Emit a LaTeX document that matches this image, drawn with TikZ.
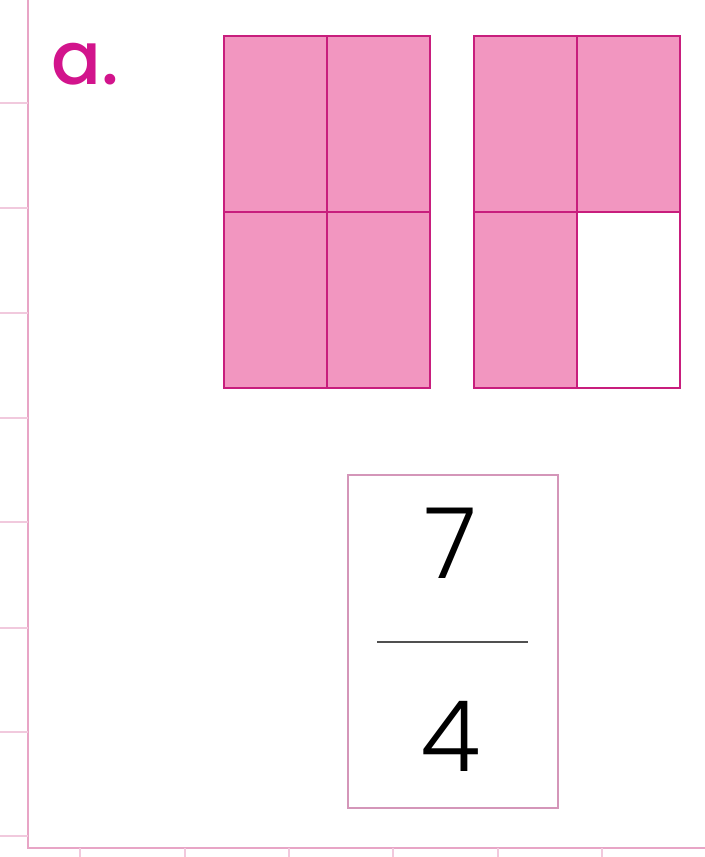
\documentclass[tikz,border=0pt]{standalone}
\usepackage{fontspec}
\setmainfont{Poppins}
\newfontfamily\digitfont{Poppins Light}
\newfontfamily\labelfont{Poppins Medium}
\usetikzlibrary{positioning}

\definecolor{pinkfill}{RGB}{242,150,192}
\definecolor{gridline}{RGB}{200,30,125}
\definecolor{labelpink}{RGB}{210,20,140}
\definecolor{framepink}{RGB}{232,165,198}
\definecolor{cardline}{RGB}{212,150,185}
\definecolor{barline}{RGB}{80,80,80}

\begin{document}
\begin{tikzpicture}[x=0.02cm, y=-0.02cm,
  cell/.style={draw=gridline, line width=1.2pt, fill=pinkfill, minimum width=2.06cm, minimum height=3.52cm, inner sep=0pt},
  blank/.style={cell, fill=white},
  card/.style={draw=cardline, line width=0.8pt, minimum width=4.2cm, minimum height=6.66cm, inner sep=0pt},
  digit/.style={font=\digitfont\fontsize{56}{56}\selectfont, inner sep=0pt}]
  \useasboundingbox (0,0) rectangle (705,857);

  % frame of the exercise
  \draw[framepink, line width=1.1pt] (28,-5) -- (28,848) -- (710,848);
  \foreach \ty in {103,208,313,418,522,628,732,836}
    \draw[framepink!60, line width=0.6pt] (0,\ty) -- (28,\ty);
  \foreach \tx in {80,185,289,393,498,602}
    \draw[framepink!60, line width=0.6pt] (\tx,848) -- (\tx,857);

  \node[anchor=base west, inner sep=0pt, text=labelpink, font=\labelfont\fontsize{42}{42}\selectfont] (lbl) at (51,85) {a.};

  % first whole: 4 of 4 parts
  \node[cell] (a1) at (275.5,124) {};
  \node[cell] (a2) at (378.5,124) {};
  \node[cell] (a3) at (275.5,300) {};
  \node[cell] (a4) at (378.5,300) {};

  % second whole: 3 of 4 parts
  \node[cell] (b1) at (525.5,124) {};
  \node[cell] (b2) at (628.5,124) {};
  \node[cell] (b3) at (525.5,300) {};
  \node[blank] (b4) at (628.5,300) {};

  % answer card
  \node[card] (card) at (453,641.5) {};
  \node[digit] (num) at (451,543) {7};
  \node[digit] (den) at (451,736) {4};
  \coordinate (barL) at (377,642);
  \coordinate (barR) at (528,642);
  \draw[barline, line width=0.7pt] (barL) -- (barR);
\end{tikzpicture}
\end{document}
